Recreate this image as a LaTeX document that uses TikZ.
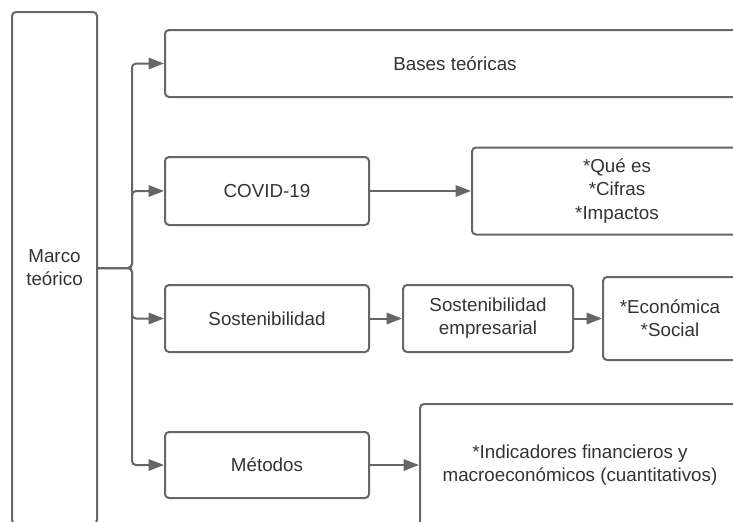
\documentclass[tikz,border=0pt]{standalone}
\usepackage{fontspec}
\setmainfont{Liberation Sans}
\usepackage{tikz}
\usetikzlibrary{arrows.meta}
\definecolor{ln}{HTML}{666666}
\definecolor{tx}{HTML}{333333}

\begin{document}
\begin{tikzpicture}[
        x=0.75pt, y=-0.75pt,
        bx/.style={draw=ln, line width=1.5pt, rounded corners=3pt, align=center,
          text=tx, inner sep=0pt, font=\fontsize{14.1}{17.3}\selectfont},
        ar/.style={draw=ln, line width=1.5pt, rounded corners=3pt,
          -{Triangle[length=11.5pt 0 0, width=8.5pt 0 0]}}
      ]
      \useasboundingbox (0,0) rectangle (733,522);
      \clip (0,0) rectangle (733,522);
      \node[bx, minimum width=63.75pt, minimum height=384pt] (marco) at (54.5,268) {Marco\\te\'orico};
      \node[bx, minimum width=435pt, minimum height=50.25pt] (bases) at (455,63.5) {Bases te\'oricas};
      \node[bx, minimum width=153pt, minimum height=51pt] (covid) at (267,191) {COVID-19};
      \node[bx, minimum width=217.5pt, minimum height=65.25pt] (quees) at (617,191) {*Qu\'e es\\*Cifras\\*Impactos};
      \node[bx, minimum width=153pt, minimum height=50.25pt] (sost) at (267,318.5) {Sostenibilidad};
      \node[bx, minimum width=127.5pt, minimum height=50.25pt] (sostemp) at (488,318.5) {Sostenibilidad\\empresarial};
      \node[bx, minimum width=100.5pt, minimum height=62.25pt] (econ) at (670,318.5) {*Econ\'omica\\*Social};
      \node[bx, minimum width=153pt, minimum height=49.5pt] (metod) at (267,465) {M\'etodos};
      \node[bx, minimum width=240pt, minimum height=91.5pt] (indic) at (580,465) {*Indicadores financieros y\\macroecon\'omicos (cuantitativos)};
      \foreach \b in {bases,covid,sost,metod} {
        \draw[ar] (marco.east) -- ++(34,0) |- (\b.west);
      }
      \draw[ar] (covid) -- (quees);
      \draw[ar] (sost) -- (sostemp);
      \draw[ar] (sostemp) -- (econ);
      \draw[ar] (metod) -- (indic);
    \end{tikzpicture}
\end{document}
